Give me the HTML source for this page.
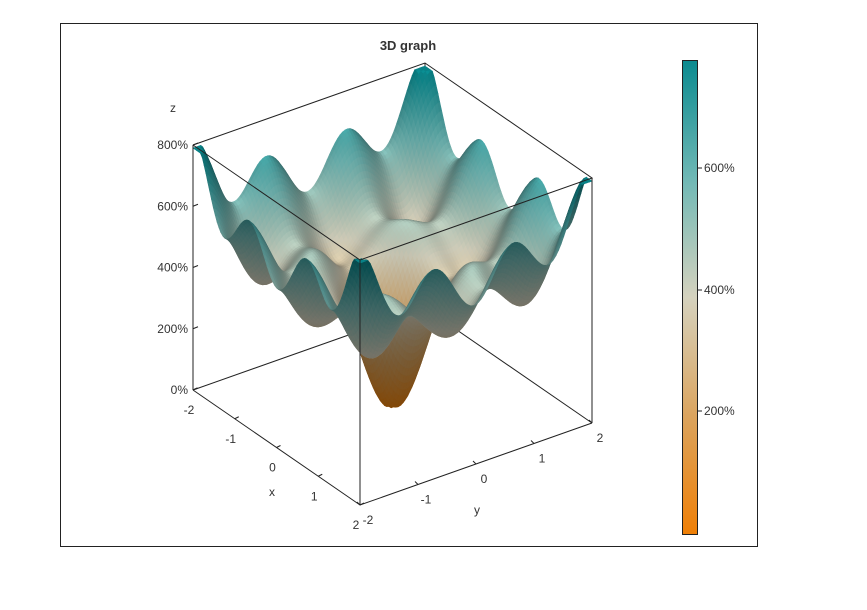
<!DOCTYPE html>
<html><head><meta charset="utf-8"><style>
body{margin:0;background:#fff;}
svg text{font-family:"Liberation Sans",sans-serif;font-size:12px;fill:#333;}
</style></head><body>
<svg id="s" width="867" height="605" xmlns="http://www.w3.org/2000/svg">
<defs><linearGradient id="cb" x1="0" y1="1" x2="0" y2="0">
<stop offset="0" stop-color="#ef7f06"/><stop offset="0.25" stop-color="#dba45e"/>
<stop offset="0.5" stop-color="#d5d2be"/><stop offset="0.75" stop-color="#6fb8b5"/>
<stop offset="1" stop-color="#0b8a8f"/></linearGradient></defs>
<rect x="60.5" y="23.5" width="697" height="523" fill="#fff" stroke="#222"/>
<text x="408" y="50" text-anchor="middle" style="font-weight:bold;font-size:13px">3D graph</text>
<g stroke="#222" stroke-width="1" fill="none">
<line x1="193" y1="390" x2="425" y2="308"/><line x1="425" y1="308" x2="592" y2="423"/>
<line x1="425" y1="308" x2="425" y2="63"/>
</g>
<g id="surf"></g>
<g stroke="#222" stroke-width="1" fill="none">
<polyline points="193,145 425,63 592,178 360,260 193,145"/>
<line x1="193" y1="145" x2="193" y2="390"/><line x1="360" y1="260" x2="360" y2="505"/>
<line x1="592" y1="178" x2="592" y2="423"/>
<polyline points="193,390 360,505 592,423"/>
</g>
<g id="ax"></g>
<text x="170" y="112">z</text>
<text x="269" y="496">x</text>
<text x="474" y="514">y</text>
<rect x="682.5" y="60.5" width="15" height="474" fill="url(#cb)" stroke="#222"/>
<g stroke="#222"><line x1="697" y1="168" x2="702" y2="168"/><line x1="697" y1="290" x2="702" y2="290"/><line x1="697" y1="411" x2="702" y2="411"/></g>
<text x="704" y="172">600%</text><text x="704" y="294">400%</text><text x="704" y="415">200%</text>
</svg>
<script>
var NS="http://www.w3.org/2000/svg";
function P(x,y,z){return [193+(x+2)/4*167+(y+2)/4*232, 390+(x+2)/4*115-(y+2)/4*82-z/8*245];}
function f(x,y){var r2=x*x+y*y,r=Math.sqrt(r2);var v=4.0+0.3*r2+0.7*r*(Math.cos(4.8*(x-2))+Math.cos(4.8*(y+2)))/2-4.0*Math.exp(-r2/0.35);return Math.max(0.1,Math.min(7.9,v));}
var stops=[[0,[239,127,6]],[2,[219,164,94]],[4,[213,210,190]],[6,[111,184,181]],[7.8,[11,138,143]]];
function col(z,s){var i=0;while(i<stops.length-2&&z>stops[i+1][0])i++;var a=stops[i],b=stops[i+1];var t=Math.max(0,Math.min(1,(z-a[0])/(b[0]-a[0])));var c=[0,1,2].map(function(k){return Math.round(Math.max(0,Math.min(255,(a[1][k]+(b[1][k]-a[1][k])*t)*s)));});return "rgb("+c+")";}
var N=90,h=4/N,q=[];
for(var i=0;i<N;i++)for(var j=0;j<N;j++){var x0=-2+i*h,y0=-2+j*h,x1=x0+h,y1=y0+h;
var z00=f(x0,y0),z10=f(x1,y0),z01=f(x0,y1),z11=f(x1,y1);
var dx=(z10+z11-z00-z01)/(2*h),dy=(z01+z11-z00-z10)/(2*h);
var n=[-dx,-dy,1.2],L=Math.hypot(n[0],n[1],n[2]);var l=(n[0]*0.45-n[1]*0.35+n[2]*0.8)/L;var s=0.55+0.5*Math.max(0,l);
var pts=[P(x0,y0,z00),P(x1,y0,z10),P(x1,y1,z11),P(x0,y1,z01)];
q.push({d:(x0+x1)/2-(y0+y1)/2,p:pts,c:col((z00+z10+z01+z11)/4,s)});}
q.sort(function(a,b){return a.d-b.d;});
var g=document.getElementById("surf");
q.forEach(function(o){var e=document.createElementNS(NS,"polygon");e.setAttribute("points",o.p.map(function(p){return p[0].toFixed(1)+","+p[1].toFixed(1)}).join(" "));e.setAttribute("fill",o.c);e.setAttribute("stroke",o.c);e.setAttribute("stroke-width","0.6");g.appendChild(e);});
var ax=document.getElementById("ax");
function T(x,y,t,a){var e=document.createElementNS(NS,"text");e.setAttribute("x",x);e.setAttribute("y",y);e.setAttribute("text-anchor",a||"middle");e.textContent=t;ax.appendChild(e);}
function Ln(x1,y1,x2,y2){var e=document.createElementNS(NS,"line");e.setAttribute("x1",x1);e.setAttribute("y1",y1);e.setAttribute("x2",x2);e.setAttribute("y2",y2);e.setAttribute("stroke","#222");ax.appendChild(e);}
["0%","200%","400%","600%","800%"].forEach(function(t,k){var y=390-k*61.25;Ln(193,y,198,y-2);T(188,y+4,t,"end");});
["-2","-1","0","1","2"].forEach(function(t,k){var x=193+k*41.75,y=390+k*28.75;Ln(x,y,x+4,y-2);T(x-4,y+24,t);});
["-2","-1","0","1","2"].forEach(function(t,k){var x=360+k*58,y=505-k*20.5;Ln(x,y,x-3,y-3);T(x+8,y+19,t);});
</script>
</body></html>
